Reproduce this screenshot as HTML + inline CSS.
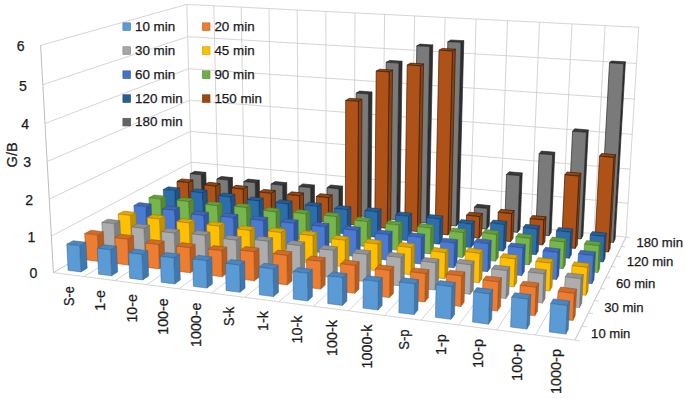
<!DOCTYPE html>
<html><head><meta charset="utf-8"><title>Chart</title>
<style>html,body{margin:0;padding:0;background:#fff;}svg{display:block}</style></head>
<body><svg width="685" height="399" viewBox="0 0 685 399">
<rect width="685" height="399" fill="#fff"/>
<polygon points="53.4,272.6 40.6,45.4 186.8,4.4 192.0,192.6" fill="#fff"/>
<polygon points="192.0,192.6 186.8,4.4 638.7,27.3 626.0,237.1" fill="#fff"/>
<polygon points="53.4,272.6 574.9,340.1 626.0,237.1 192.0,192.6" fill="#fff"/>
<line x1="53.4" y1="272.6" x2="192.0" y2="192.6" stroke="#cacaca" stroke-width="0.8"/>
<line x1="192.0" y1="192.6" x2="626.0" y2="237.1" stroke="#cacaca" stroke-width="0.8"/>
<line x1="51.3" y1="236.2" x2="191.1" y2="162.2" stroke="#cacaca" stroke-width="0.8"/>
<line x1="191.1" y1="162.2" x2="628.0" y2="203.3" stroke="#cacaca" stroke-width="0.8"/>
<line x1="49.2" y1="199.2" x2="190.3" y2="131.4" stroke="#cacaca" stroke-width="0.8"/>
<line x1="190.3" y1="131.4" x2="630.1" y2="169.1" stroke="#cacaca" stroke-width="0.8"/>
<line x1="47.1" y1="161.6" x2="189.4" y2="100.3" stroke="#cacaca" stroke-width="0.8"/>
<line x1="189.4" y1="100.3" x2="632.2" y2="134.4" stroke="#cacaca" stroke-width="0.8"/>
<line x1="45.0" y1="123.5" x2="188.6" y2="68.7" stroke="#cacaca" stroke-width="0.8"/>
<line x1="188.6" y1="68.7" x2="634.3" y2="99.2" stroke="#cacaca" stroke-width="0.8"/>
<line x1="42.8" y1="84.7" x2="187.7" y2="36.7" stroke="#cacaca" stroke-width="0.8"/>
<line x1="187.7" y1="36.7" x2="636.5" y2="63.5" stroke="#cacaca" stroke-width="0.8"/>
<line x1="40.6" y1="45.4" x2="186.8" y2="4.4" stroke="#cacaca" stroke-width="0.8"/>
<line x1="186.8" y1="4.4" x2="638.7" y2="27.3" stroke="#cacaca" stroke-width="0.8"/>
<line x1="192.0" y1="192.6" x2="186.8" y2="4.4" stroke="#cacaca" stroke-width="0.8"/>
<line x1="53.4" y1="272.6" x2="192.0" y2="192.6" stroke="#cacaca" stroke-width="0.8"/>
<line x1="218.0" y1="195.3" x2="213.8" y2="5.8" stroke="#cacaca" stroke-width="0.8"/>
<line x1="83.9" y1="276.6" x2="218.0" y2="195.3" stroke="#cacaca" stroke-width="0.8"/>
<line x1="244.4" y1="198.0" x2="241.2" y2="7.2" stroke="#cacaca" stroke-width="0.8"/>
<line x1="114.9" y1="280.6" x2="244.4" y2="198.0" stroke="#cacaca" stroke-width="0.8"/>
<line x1="271.2" y1="200.7" x2="269.0" y2="8.6" stroke="#cacaca" stroke-width="0.8"/>
<line x1="146.6" y1="284.7" x2="271.2" y2="200.7" stroke="#cacaca" stroke-width="0.8"/>
<line x1="298.4" y1="203.5" x2="297.2" y2="10.0" stroke="#cacaca" stroke-width="0.8"/>
<line x1="178.7" y1="288.9" x2="298.4" y2="203.5" stroke="#cacaca" stroke-width="0.8"/>
<line x1="326.0" y1="206.3" x2="325.9" y2="11.4" stroke="#cacaca" stroke-width="0.8"/>
<line x1="211.5" y1="293.1" x2="326.0" y2="206.3" stroke="#cacaca" stroke-width="0.8"/>
<line x1="354.0" y1="209.2" x2="355.0" y2="12.9" stroke="#cacaca" stroke-width="0.8"/>
<line x1="244.9" y1="297.4" x2="354.0" y2="209.2" stroke="#cacaca" stroke-width="0.8"/>
<line x1="382.4" y1="212.1" x2="384.6" y2="14.4" stroke="#cacaca" stroke-width="0.8"/>
<line x1="278.8" y1="301.8" x2="382.4" y2="212.1" stroke="#cacaca" stroke-width="0.8"/>
<line x1="411.2" y1="215.1" x2="414.6" y2="15.9" stroke="#cacaca" stroke-width="0.8"/>
<line x1="313.4" y1="306.3" x2="411.2" y2="215.1" stroke="#cacaca" stroke-width="0.8"/>
<line x1="440.5" y1="218.1" x2="445.1" y2="17.5" stroke="#cacaca" stroke-width="0.8"/>
<line x1="348.7" y1="310.9" x2="440.5" y2="218.1" stroke="#cacaca" stroke-width="0.8"/>
<line x1="470.2" y1="221.1" x2="476.1" y2="19.1" stroke="#cacaca" stroke-width="0.8"/>
<line x1="384.6" y1="315.5" x2="470.2" y2="221.1" stroke="#cacaca" stroke-width="0.8"/>
<line x1="500.4" y1="224.2" x2="507.5" y2="20.7" stroke="#cacaca" stroke-width="0.8"/>
<line x1="421.2" y1="320.2" x2="500.4" y2="224.2" stroke="#cacaca" stroke-width="0.8"/>
<line x1="531.1" y1="227.3" x2="539.5" y2="22.3" stroke="#cacaca" stroke-width="0.8"/>
<line x1="458.5" y1="325.1" x2="531.1" y2="227.3" stroke="#cacaca" stroke-width="0.8"/>
<line x1="562.2" y1="230.5" x2="572.0" y2="23.9" stroke="#cacaca" stroke-width="0.8"/>
<line x1="496.6" y1="330.0" x2="562.2" y2="230.5" stroke="#cacaca" stroke-width="0.8"/>
<line x1="593.8" y1="233.8" x2="605.1" y2="25.6" stroke="#cacaca" stroke-width="0.8"/>
<line x1="535.4" y1="335.0" x2="593.8" y2="233.8" stroke="#cacaca" stroke-width="0.8"/>
<line x1="626.0" y1="237.1" x2="638.7" y2="27.3" stroke="#cacaca" stroke-width="0.8"/>
<line x1="574.9" y1="340.1" x2="626.0" y2="237.1" stroke="#cacaca" stroke-width="0.8"/>
<line x1="53.4" y1="272.6" x2="40.6" y2="45.4" stroke="#bdbdbd" stroke-width="1"/>
<line x1="53.4" y1="272.6" x2="574.9" y2="340.1" stroke="#cacaca" stroke-width="0.8"/>
<line x1="574.9" y1="340.1" x2="626.0" y2="237.1" stroke="#cacaca" stroke-width="0.8"/>
<line x1="574.9" y1="340.1" x2="579.7" y2="340.8" stroke="#cacaca" stroke-width="0.8"/>
<line x1="581.8" y1="326.2" x2="586.5" y2="326.8" stroke="#cacaca" stroke-width="0.8"/>
<line x1="588.4" y1="313.0" x2="592.9" y2="313.6" stroke="#cacaca" stroke-width="0.8"/>
<line x1="594.6" y1="300.5" x2="599.0" y2="301.0" stroke="#cacaca" stroke-width="0.8"/>
<line x1="600.5" y1="288.6" x2="604.8" y2="289.1" stroke="#cacaca" stroke-width="0.8"/>
<line x1="606.1" y1="277.3" x2="610.3" y2="277.8" stroke="#cacaca" stroke-width="0.8"/>
<line x1="611.4" y1="266.5" x2="615.5" y2="267.0" stroke="#cacaca" stroke-width="0.8"/>
<line x1="616.5" y1="256.2" x2="620.5" y2="256.7" stroke="#cacaca" stroke-width="0.8"/>
<line x1="621.3" y1="246.4" x2="625.3" y2="246.9" stroke="#cacaca" stroke-width="0.8"/>
<line x1="626.0" y1="237.1" x2="629.9" y2="237.5" stroke="#cacaca" stroke-width="0.8"/>
<polygon points="202.0,199.5 201.3,174.8 205.8,172.4 206.4,196.9" fill="#2E2E2E" stroke="#242424" stroke-width="0.65" stroke-linejoin="round"/>
<polygon points="190.2,173.7 201.3,174.8 205.8,172.4 194.7,171.3" fill="#3A3A3A" stroke="#242424" stroke-width="0.65" stroke-linejoin="round"/>
<polygon points="190.9,198.4 190.2,173.7 201.3,174.8 202.0,199.5" fill="#7A7A7A" stroke="#242424" stroke-width="0.65" stroke-linejoin="round"/>
<polygon points="228.6,202.3 228.1,180.1 232.4,177.6 232.8,199.6" fill="#2E2E2E" stroke="#242424" stroke-width="0.65" stroke-linejoin="round"/>
<polygon points="216.9,179.0 228.1,180.1 232.4,177.6 221.2,176.5" fill="#3A3A3A" stroke="#242424" stroke-width="0.65" stroke-linejoin="round"/>
<polygon points="217.3,201.1 216.9,179.0 228.1,180.1 228.6,202.3" fill="#7A7A7A" stroke="#242424" stroke-width="0.65" stroke-linejoin="round"/>
<polygon points="255.6,205.1 255.2,182.7 259.3,180.2 259.6,202.4" fill="#2E2E2E" stroke="#242424" stroke-width="0.65" stroke-linejoin="round"/>
<polygon points="243.8,181.6 255.2,182.7 259.3,180.2 248.0,179.1" fill="#3A3A3A" stroke="#242424" stroke-width="0.65" stroke-linejoin="round"/>
<polygon points="244.2,203.9 243.8,181.6 255.2,182.7 255.6,205.1" fill="#7A7A7A" stroke="#242424" stroke-width="0.65" stroke-linejoin="round"/>
<polygon points="282.9,208.0 282.7,185.3 286.7,182.7 286.9,205.2" fill="#2E2E2E" stroke="#242424" stroke-width="0.65" stroke-linejoin="round"/>
<polygon points="271.1,184.1 282.7,185.3 286.7,182.7 275.1,181.6" fill="#3A3A3A" stroke="#242424" stroke-width="0.65" stroke-linejoin="round"/>
<polygon points="271.4,206.8 271.1,184.1 282.7,185.3 282.9,208.0" fill="#7A7A7A" stroke="#242424" stroke-width="0.65" stroke-linejoin="round"/>
<polygon points="310.7,210.9 310.7,187.7 314.4,185.1 314.5,208.1" fill="#2E2E2E" stroke="#242424" stroke-width="0.65" stroke-linejoin="round"/>
<polygon points="298.9,186.5 310.7,187.7 314.4,185.1 302.7,183.9" fill="#3A3A3A" stroke="#242424" stroke-width="0.65" stroke-linejoin="round"/>
<polygon points="299.0,209.6 298.9,186.5 310.7,187.7 310.7,210.9" fill="#7A7A7A" stroke="#242424" stroke-width="0.65" stroke-linejoin="round"/>
<polygon points="339.0,213.8 339.0,188.9 342.6,186.2 342.5,211.0" fill="#2E2E2E" stroke="#242424" stroke-width="0.65" stroke-linejoin="round"/>
<polygon points="327.0,187.7 339.0,188.9 342.6,186.2 330.7,185.0" fill="#3A3A3A" stroke="#242424" stroke-width="0.65" stroke-linejoin="round"/>
<polygon points="327.1,212.6 327.0,187.7 339.0,188.9 339.0,213.8" fill="#7A7A7A" stroke="#242424" stroke-width="0.65" stroke-linejoin="round"/>
<polygon points="367.6,216.8 368.6,94.0 372.0,92.0 371.0,213.9" fill="#2E2E2E" stroke="#242424" stroke-width="0.65" stroke-linejoin="round"/>
<polygon points="356.2,93.1 368.6,94.0 372.0,92.0 359.7,91.1" fill="#3A3A3A" stroke="#242424" stroke-width="0.65" stroke-linejoin="round"/>
<polygon points="355.5,215.5 356.2,93.1 368.6,94.0 367.6,216.8" fill="#7A7A7A" stroke="#242424" stroke-width="0.65" stroke-linejoin="round"/>
<polygon points="396.7,219.8 398.9,63.1 402.1,61.2 399.9,216.9" fill="#2E2E2E" stroke="#242424" stroke-width="0.65" stroke-linejoin="round"/>
<polygon points="386.2,62.3 398.9,63.1 402.1,61.2 389.6,60.4" fill="#3A3A3A" stroke="#242424" stroke-width="0.65" stroke-linejoin="round"/>
<polygon points="384.4,218.5 386.2,62.3 398.9,63.1 396.7,219.8" fill="#7A7A7A" stroke="#242424" stroke-width="0.65" stroke-linejoin="round"/>
<polygon points="426.2,222.9 429.7,46.6 432.8,44.9 429.2,219.9" fill="#2E2E2E" stroke="#242424" stroke-width="0.65" stroke-linejoin="round"/>
<polygon points="416.8,45.8 429.7,46.6 432.8,44.9 420.0,44.1" fill="#3A3A3A" stroke="#242424" stroke-width="0.65" stroke-linejoin="round"/>
<polygon points="413.7,221.6 416.8,45.8 429.7,46.6 426.2,222.9" fill="#7A7A7A" stroke="#242424" stroke-width="0.65" stroke-linejoin="round"/>
<polygon points="456.2,226.0 461.0,42.4 463.8,40.7 459.0,223.0" fill="#2E2E2E" stroke="#242424" stroke-width="0.65" stroke-linejoin="round"/>
<polygon points="447.8,41.7 461.0,42.4 463.8,40.7 450.8,40.0" fill="#3A3A3A" stroke="#242424" stroke-width="0.65" stroke-linejoin="round"/>
<polygon points="443.5,224.7 447.8,41.7 461.0,42.4 456.2,226.0" fill="#7A7A7A" stroke="#242424" stroke-width="0.65" stroke-linejoin="round"/>
<polygon points="486.6,229.2 487.3,208.5 489.9,205.6 489.2,226.1" fill="#2E2E2E" stroke="#242424" stroke-width="0.65" stroke-linejoin="round"/>
<polygon points="474.4,207.2 487.3,208.5 489.9,205.6 477.1,204.3" fill="#3A3A3A" stroke="#242424" stroke-width="0.65" stroke-linejoin="round"/>
<polygon points="473.8,227.8 474.4,207.2 487.3,208.5 486.6,229.2" fill="#7A7A7A" stroke="#242424" stroke-width="0.65" stroke-linejoin="round"/>
<polygon points="517.6,232.4 519.8,175.7 522.2,172.9 520.0,229.3" fill="#2E2E2E" stroke="#242424" stroke-width="0.65" stroke-linejoin="round"/>
<polygon points="506.5,174.5 519.8,175.7 522.2,172.9 509.0,171.8" fill="#3A3A3A" stroke="#242424" stroke-width="0.65" stroke-linejoin="round"/>
<polygon points="504.5,231.0 506.5,174.5 519.8,175.7 517.6,232.4" fill="#7A7A7A" stroke="#242424" stroke-width="0.65" stroke-linejoin="round"/>
<polygon points="549.0,235.7 552.6,154.8 554.8,152.2 551.2,232.5" fill="#2E2E2E" stroke="#242424" stroke-width="0.65" stroke-linejoin="round"/>
<polygon points="539.1,153.7 552.6,154.8 554.8,152.2 541.4,151.1" fill="#3A3A3A" stroke="#242424" stroke-width="0.65" stroke-linejoin="round"/>
<polygon points="535.7,234.3 539.1,153.7 552.6,154.8 549.0,235.7" fill="#7A7A7A" stroke="#242424" stroke-width="0.65" stroke-linejoin="round"/>
<polygon points="580.9,239.0 586.4,132.3 588.3,129.9 582.9,235.8" fill="#2E2E2E" stroke="#242424" stroke-width="0.65" stroke-linejoin="round"/>
<polygon points="572.6,131.3 586.4,132.3 588.3,129.9 574.7,128.8" fill="#3A3A3A" stroke="#242424" stroke-width="0.65" stroke-linejoin="round"/>
<polygon points="567.4,237.6 572.6,131.3 586.4,132.3 580.9,239.0" fill="#7A7A7A" stroke="#242424" stroke-width="0.65" stroke-linejoin="round"/>
<polygon points="613.4,242.4 623.7,63.8 625.4,61.8 615.1,239.1" fill="#2E2E2E" stroke="#242424" stroke-width="0.65" stroke-linejoin="round"/>
<polygon points="609.5,62.9 623.7,63.8 625.4,61.8 611.3,61.0" fill="#3A3A3A" stroke="#242424" stroke-width="0.65" stroke-linejoin="round"/>
<polygon points="599.7,240.9 609.5,62.9 623.7,63.8 613.4,242.4" fill="#7A7A7A" stroke="#242424" stroke-width="0.65" stroke-linejoin="round"/>
<polygon points="189.0,207.3 188.3,182.6 192.9,180.0 193.6,204.5" fill="#8A4210" stroke="#341806" stroke-width="0.65" stroke-linejoin="round"/>
<polygon points="177.0,181.4 188.3,182.6 192.9,180.0 181.7,178.9" fill="#96460F" stroke="#341806" stroke-width="0.65" stroke-linejoin="round"/>
<polygon points="177.8,206.1 177.0,181.4 188.3,182.6 189.0,207.3" fill="#AE5217" stroke="#341806" stroke-width="0.65" stroke-linejoin="round"/>
<polygon points="216.1,210.2 215.5,186.1 220.0,183.5 220.5,207.4" fill="#8A4210" stroke="#341806" stroke-width="0.65" stroke-linejoin="round"/>
<polygon points="204.1,184.9 215.5,186.1 220.0,183.5 208.6,182.3" fill="#96460F" stroke="#341806" stroke-width="0.65" stroke-linejoin="round"/>
<polygon points="204.7,209.0 204.1,184.9 215.5,186.1 216.1,210.2" fill="#AE5217" stroke="#341806" stroke-width="0.65" stroke-linejoin="round"/>
<polygon points="243.5,213.1 243.1,189.2 247.4,186.5 247.8,210.3" fill="#8A4210" stroke="#341806" stroke-width="0.65" stroke-linejoin="round"/>
<polygon points="231.5,188.0 243.1,189.2 247.4,186.5 235.8,185.3" fill="#96460F" stroke="#341806" stroke-width="0.65" stroke-linejoin="round"/>
<polygon points="231.9,211.9 231.5,188.0 243.1,189.2 243.5,213.1" fill="#AE5217" stroke="#341806" stroke-width="0.65" stroke-linejoin="round"/>
<polygon points="271.4,216.1 271.1,193.3 275.3,190.5 275.5,213.2" fill="#8A4210" stroke="#341806" stroke-width="0.65" stroke-linejoin="round"/>
<polygon points="259.3,192.1 271.1,193.3 275.3,190.5 263.5,189.4" fill="#96460F" stroke="#341806" stroke-width="0.65" stroke-linejoin="round"/>
<polygon points="259.6,214.8 259.3,192.1 271.1,193.3 271.4,216.1" fill="#AE5217" stroke="#341806" stroke-width="0.65" stroke-linejoin="round"/>
<polygon points="299.7,219.1 299.6,195.8 303.5,193.0 303.6,216.2" fill="#8A4210" stroke="#341806" stroke-width="0.65" stroke-linejoin="round"/>
<polygon points="287.6,194.6 299.6,195.8 303.5,193.0 291.6,191.8" fill="#96460F" stroke="#341806" stroke-width="0.65" stroke-linejoin="round"/>
<polygon points="287.8,217.8 287.6,194.6 299.6,195.8 299.7,219.1" fill="#AE5217" stroke="#341806" stroke-width="0.65" stroke-linejoin="round"/>
<polygon points="328.4,222.1 328.4,197.7 332.2,194.9 332.2,219.2" fill="#8A4210" stroke="#341806" stroke-width="0.65" stroke-linejoin="round"/>
<polygon points="316.3,196.5 328.4,197.7 332.2,194.9 320.1,193.7" fill="#96460F" stroke="#341806" stroke-width="0.65" stroke-linejoin="round"/>
<polygon points="316.3,220.9 316.3,196.5 328.4,197.7 328.4,222.1" fill="#AE5217" stroke="#341806" stroke-width="0.65" stroke-linejoin="round"/>
<polygon points="357.6,225.3 358.4,101.3 362.0,99.2 361.2,222.2" fill="#8A4210" stroke="#341806" stroke-width="0.65" stroke-linejoin="round"/>
<polygon points="345.7,100.4 358.4,101.3 362.0,99.2 349.4,98.3" fill="#96460F" stroke="#341806" stroke-width="0.65" stroke-linejoin="round"/>
<polygon points="345.3,223.9 345.7,100.4 358.4,101.3 357.6,225.3" fill="#AE5217" stroke="#341806" stroke-width="0.65" stroke-linejoin="round"/>
<polygon points="387.2,228.4 389.1,71.9 392.6,70.0 390.6,225.4" fill="#8A4210" stroke="#341806" stroke-width="0.65" stroke-linejoin="round"/>
<polygon points="376.2,71.1 389.1,71.9 392.6,70.0 379.7,69.2" fill="#96460F" stroke="#341806" stroke-width="0.65" stroke-linejoin="round"/>
<polygon points="374.7,227.1 376.2,71.1 389.1,71.9 387.2,228.4" fill="#AE5217" stroke="#341806" stroke-width="0.65" stroke-linejoin="round"/>
<polygon points="417.3,231.6 420.4,65.8 423.6,63.9 420.5,228.5" fill="#8A4210" stroke="#341806" stroke-width="0.65" stroke-linejoin="round"/>
<polygon points="407.2,65.0 420.4,65.8 423.6,63.9 410.5,63.1" fill="#96460F" stroke="#341806" stroke-width="0.65" stroke-linejoin="round"/>
<polygon points="404.6,230.3 407.2,65.0 420.4,65.8 417.3,231.6" fill="#AE5217" stroke="#341806" stroke-width="0.65" stroke-linejoin="round"/>
<polygon points="447.9,234.9 452.4,51.0 455.4,49.2 450.9,231.7" fill="#8A4210" stroke="#341806" stroke-width="0.65" stroke-linejoin="round"/>
<polygon points="439.0,50.2 452.4,51.0 455.4,49.2 442.1,48.4" fill="#96460F" stroke="#341806" stroke-width="0.65" stroke-linejoin="round"/>
<polygon points="435.0,233.5 439.0,50.2 452.4,51.0 447.9,234.9" fill="#AE5217" stroke="#341806" stroke-width="0.65" stroke-linejoin="round"/>
<polygon points="479.0,238.2 479.7,216.6 482.4,213.5 481.7,235.0" fill="#8A4210" stroke="#341806" stroke-width="0.65" stroke-linejoin="round"/>
<polygon points="466.5,215.2 479.7,216.6 482.4,213.5 469.3,212.2" fill="#96460F" stroke="#341806" stroke-width="0.65" stroke-linejoin="round"/>
<polygon points="465.9,236.8 466.5,215.2 479.7,216.6 479.0,238.2" fill="#AE5217" stroke="#341806" stroke-width="0.65" stroke-linejoin="round"/>
<polygon points="510.6,241.6 511.6,213.6 514.1,210.6 513.0,238.3" fill="#8A4210" stroke="#341806" stroke-width="0.65" stroke-linejoin="round"/>
<polygon points="498.2,212.3 511.6,213.6 514.1,210.6 500.8,209.3" fill="#96460F" stroke="#341806" stroke-width="0.65" stroke-linejoin="round"/>
<polygon points="497.2,240.1 498.2,212.3 511.6,213.6 510.6,241.6" fill="#AE5217" stroke="#341806" stroke-width="0.65" stroke-linejoin="round"/>
<polygon points="542.6,245.0 543.7,219.9 546.0,216.8 544.9,241.7" fill="#8A4210" stroke="#341806" stroke-width="0.65" stroke-linejoin="round"/>
<polygon points="530.1,218.6 543.7,219.9 546.0,216.8 532.5,215.5" fill="#96460F" stroke="#341806" stroke-width="0.65" stroke-linejoin="round"/>
<polygon points="529.1,243.5 530.1,218.6 543.7,219.9 542.6,245.0" fill="#AE5217" stroke="#341806" stroke-width="0.65" stroke-linejoin="round"/>
<polygon points="575.2,248.4 578.9,176.1 580.9,173.2 577.3,245.1" fill="#8A4210" stroke="#341806" stroke-width="0.65" stroke-linejoin="round"/>
<polygon points="564.9,174.8 578.9,176.1 580.9,173.2 567.0,172.0" fill="#96460F" stroke="#341806" stroke-width="0.65" stroke-linejoin="round"/>
<polygon points="561.5,247.0 564.9,174.8 578.9,176.1 575.2,248.4" fill="#AE5217" stroke="#341806" stroke-width="0.65" stroke-linejoin="round"/>
<polygon points="608.4,252.0 613.8,157.4 615.5,154.7 610.1,248.6" fill="#8A4210" stroke="#341806" stroke-width="0.65" stroke-linejoin="round"/>
<polygon points="599.5,156.2 613.8,157.4 615.5,154.7 601.4,153.5" fill="#96460F" stroke="#341806" stroke-width="0.65" stroke-linejoin="round"/>
<polygon points="594.4,250.5 599.5,156.2 613.8,157.4 608.4,252.0" fill="#AE5217" stroke="#341806" stroke-width="0.65" stroke-linejoin="round"/>
<polygon points="175.5,215.4 174.8,190.6 179.6,187.9 180.3,212.5" fill="#1E5288" stroke="#163657" stroke-width="0.5" stroke-linejoin="round"/>
<polygon points="163.3,189.5 174.8,190.6 179.6,187.9 168.2,186.8" fill="#245E98" stroke="#163657" stroke-width="0.5" stroke-linejoin="round"/>
<polygon points="164.1,214.1 163.3,189.5 174.8,190.6 175.5,215.4" fill="#2C6DAE" stroke="#163657" stroke-width="0.5" stroke-linejoin="round"/>
<polygon points="203.0,218.4 202.4,192.8 207.0,190.1 207.7,215.5" fill="#1E5288" stroke="#163657" stroke-width="0.5" stroke-linejoin="round"/>
<polygon points="190.7,191.6 202.4,192.8 207.0,190.1 195.4,188.9" fill="#245E98" stroke="#163657" stroke-width="0.5" stroke-linejoin="round"/>
<polygon points="191.4,217.1 190.7,191.6 202.4,192.8 203.0,218.4" fill="#2C6DAE" stroke="#163657" stroke-width="0.5" stroke-linejoin="round"/>
<polygon points="231.0,221.4 230.5,197.0 235.0,194.2 235.4,218.5" fill="#1E5288" stroke="#163657" stroke-width="0.5" stroke-linejoin="round"/>
<polygon points="218.7,195.8 230.5,197.0 235.0,194.2 223.2,193.0" fill="#245E98" stroke="#163657" stroke-width="0.5" stroke-linejoin="round"/>
<polygon points="219.2,220.1 218.7,195.8 230.5,197.0 231.0,221.4" fill="#2C6DAE" stroke="#163657" stroke-width="0.5" stroke-linejoin="round"/>
<polygon points="259.4,224.5 259.0,200.9 263.3,198.1 263.6,221.5" fill="#1E5288" stroke="#163657" stroke-width="0.5" stroke-linejoin="round"/>
<polygon points="247.0,199.7 259.0,200.9 263.3,198.1 251.4,196.9" fill="#245E98" stroke="#163657" stroke-width="0.5" stroke-linejoin="round"/>
<polygon points="247.4,223.2 247.0,199.7 259.0,200.9 259.4,224.5" fill="#2C6DAE" stroke="#163657" stroke-width="0.5" stroke-linejoin="round"/>
<polygon points="288.2,227.7 288.0,203.9 292.1,201.0 292.3,224.6" fill="#1E5288" stroke="#163657" stroke-width="0.5" stroke-linejoin="round"/>
<polygon points="275.8,202.6 288.0,203.9 292.1,201.0 280.0,199.8" fill="#245E98" stroke="#163657" stroke-width="0.5" stroke-linejoin="round"/>
<polygon points="276.0,226.3 275.8,202.6 288.0,203.9 288.2,227.7" fill="#2C6DAE" stroke="#163657" stroke-width="0.5" stroke-linejoin="round"/>
<polygon points="317.5,230.9 317.4,206.4 321.3,203.5 321.4,227.8" fill="#1E5288" stroke="#163657" stroke-width="0.5" stroke-linejoin="round"/>
<polygon points="305.0,205.1 317.4,206.4 321.3,203.5 309.0,202.2" fill="#245E98" stroke="#163657" stroke-width="0.5" stroke-linejoin="round"/>
<polygon points="305.1,229.5 305.0,205.1 317.4,206.4 317.5,230.9" fill="#2C6DAE" stroke="#163657" stroke-width="0.5" stroke-linejoin="round"/>
<polygon points="347.2,234.1 347.3,209.7 351.0,206.7 350.9,231.0" fill="#1E5288" stroke="#163657" stroke-width="0.5" stroke-linejoin="round"/>
<polygon points="334.7,208.4 347.3,209.7 351.0,206.7 338.5,205.4" fill="#245E98" stroke="#163657" stroke-width="0.5" stroke-linejoin="round"/>
<polygon points="334.6,232.7 334.7,208.4 347.3,209.7 347.2,234.1" fill="#2C6DAE" stroke="#163657" stroke-width="0.5" stroke-linejoin="round"/>
<polygon points="377.4,237.4 377.7,211.9 381.2,208.9 380.9,234.2" fill="#1E5288" stroke="#163657" stroke-width="0.5" stroke-linejoin="round"/>
<polygon points="364.8,210.6 377.7,211.9 381.2,208.9 368.4,207.6" fill="#245E98" stroke="#163657" stroke-width="0.5" stroke-linejoin="round"/>
<polygon points="364.7,236.0 364.8,210.6 377.7,211.9 377.4,237.4" fill="#2C6DAE" stroke="#163657" stroke-width="0.5" stroke-linejoin="round"/>
<polygon points="408.1,240.7 408.5,216.3 411.8,213.2 411.4,237.5" fill="#1E5288" stroke="#163657" stroke-width="0.5" stroke-linejoin="round"/>
<polygon points="395.5,214.9 408.5,216.3 411.8,213.2 398.9,211.9" fill="#245E98" stroke="#163657" stroke-width="0.5" stroke-linejoin="round"/>
<polygon points="395.1,239.3 395.5,214.9 408.5,216.3 408.1,240.7" fill="#2C6DAE" stroke="#163657" stroke-width="0.5" stroke-linejoin="round"/>
<polygon points="439.3,244.2 439.9,219.0 442.9,215.9 442.4,240.9" fill="#1E5288" stroke="#163657" stroke-width="0.5" stroke-linejoin="round"/>
<polygon points="426.6,217.6 439.9,219.0 442.9,215.9 429.8,214.5" fill="#245E98" stroke="#163657" stroke-width="0.5" stroke-linejoin="round"/>
<polygon points="426.1,242.7 426.6,217.6 439.9,219.0 439.3,244.2" fill="#2C6DAE" stroke="#163657" stroke-width="0.5" stroke-linejoin="round"/>
<polygon points="471.0,247.6 471.7,224.2 474.5,221.0 473.8,244.3" fill="#1E5288" stroke="#163657" stroke-width="0.5" stroke-linejoin="round"/>
<polygon points="458.2,222.8 471.7,224.2 474.5,221.0 461.2,219.6" fill="#245E98" stroke="#163657" stroke-width="0.5" stroke-linejoin="round"/>
<polygon points="457.6,246.2 458.2,222.8 471.7,224.2 471.0,247.6" fill="#2C6DAE" stroke="#163657" stroke-width="0.5" stroke-linejoin="round"/>
<polygon points="503.2,251.1 504.2,224.5 506.8,221.3 505.8,247.7" fill="#1E5288" stroke="#163657" stroke-width="0.5" stroke-linejoin="round"/>
<polygon points="490.5,223.1 504.2,224.5 506.8,221.3 493.2,220.0" fill="#245E98" stroke="#163657" stroke-width="0.5" stroke-linejoin="round"/>
<polygon points="489.6,249.7 490.5,223.1 504.2,224.5 503.2,251.1" fill="#2C6DAE" stroke="#163657" stroke-width="0.5" stroke-linejoin="round"/>
<polygon points="536.0,254.7 537.1,229.0 539.4,225.7 538.3,251.3" fill="#1E5288" stroke="#163657" stroke-width="0.5" stroke-linejoin="round"/>
<polygon points="523.2,227.5 537.1,229.0 539.4,225.7 525.6,224.3" fill="#245E98" stroke="#163657" stroke-width="0.5" stroke-linejoin="round"/>
<polygon points="522.1,253.2 523.2,227.5 537.1,229.0 536.0,254.7" fill="#2C6DAE" stroke="#163657" stroke-width="0.5" stroke-linejoin="round"/>
<polygon points="569.3,258.3 570.6,232.2 572.7,228.9 571.4,254.8" fill="#1E5288" stroke="#163657" stroke-width="0.5" stroke-linejoin="round"/>
<polygon points="556.4,230.8 570.6,232.2 572.7,228.9 558.6,227.5" fill="#245E98" stroke="#163657" stroke-width="0.5" stroke-linejoin="round"/>
<polygon points="555.2,256.8 556.4,230.8 570.6,232.2 569.3,258.3" fill="#2C6DAE" stroke="#163657" stroke-width="0.5" stroke-linejoin="round"/>
<polygon points="603.1,262.0 604.6,236.4 606.4,233.1 605.0,258.5" fill="#1E5288" stroke="#163657" stroke-width="0.5" stroke-linejoin="round"/>
<polygon points="590.2,235.0 604.6,236.4 606.4,233.1 592.2,231.6" fill="#245E98" stroke="#163657" stroke-width="0.5" stroke-linejoin="round"/>
<polygon points="588.8,260.5 590.2,235.0 604.6,236.4 603.1,262.0" fill="#2C6DAE" stroke="#163657" stroke-width="0.5" stroke-linejoin="round"/>
<polygon points="161.4,223.8 160.6,199.1 165.6,196.2 166.4,220.8" fill="#568835" stroke="#49702d" stroke-width="0.5" stroke-linejoin="round"/>
<polygon points="148.9,197.8 160.6,199.1 165.6,196.2 154.0,195.0" fill="#63A03C" stroke="#49702d" stroke-width="0.5" stroke-linejoin="round"/>
<polygon points="149.8,222.5 148.9,197.8 160.6,199.1 161.4,223.8" fill="#76B64A" stroke="#49702d" stroke-width="0.5" stroke-linejoin="round"/>
<polygon points="189.5,226.9 188.7,201.5 193.6,198.7 194.3,223.9" fill="#568835" stroke="#49702d" stroke-width="0.5" stroke-linejoin="round"/>
<polygon points="176.9,200.3 188.7,201.5 193.6,198.7 181.8,197.4" fill="#63A03C" stroke="#49702d" stroke-width="0.5" stroke-linejoin="round"/>
<polygon points="177.6,225.6 176.9,200.3 188.7,201.5 189.5,226.9" fill="#76B64A" stroke="#49702d" stroke-width="0.5" stroke-linejoin="round"/>
<polygon points="217.9,230.1 217.4,205.7 222.0,202.8 222.5,227.0" fill="#568835" stroke="#49702d" stroke-width="0.5" stroke-linejoin="round"/>
<polygon points="205.3,204.4 217.4,205.7 222.0,202.8 210.0,201.5" fill="#63A03C" stroke="#49702d" stroke-width="0.5" stroke-linejoin="round"/>
<polygon points="205.9,228.7 205.3,204.4 217.4,205.7 217.9,230.1" fill="#76B64A" stroke="#49702d" stroke-width="0.5" stroke-linejoin="round"/>
<polygon points="246.8,233.3 246.4,207.6 250.9,204.6 251.3,230.2" fill="#568835" stroke="#49702d" stroke-width="0.5" stroke-linejoin="round"/>
<polygon points="234.1,206.3 246.4,207.6 250.9,204.6 238.7,203.4" fill="#63A03C" stroke="#49702d" stroke-width="0.5" stroke-linejoin="round"/>
<polygon points="234.6,232.0 234.1,206.3 246.4,207.6 246.8,233.3" fill="#76B64A" stroke="#49702d" stroke-width="0.5" stroke-linejoin="round"/>
<polygon points="276.2,236.6 275.9,211.9 280.2,208.8 280.4,233.4" fill="#568835" stroke="#49702d" stroke-width="0.5" stroke-linejoin="round"/>
<polygon points="263.4,210.5 275.9,211.9 280.2,208.8 267.8,207.6" fill="#63A03C" stroke="#49702d" stroke-width="0.5" stroke-linejoin="round"/>
<polygon points="263.8,235.2 263.4,210.5 275.9,211.9 276.2,236.6" fill="#76B64A" stroke="#49702d" stroke-width="0.5" stroke-linejoin="round"/>
<polygon points="306.0,239.9 305.9,213.8 310.0,210.8 310.1,236.7" fill="#568835" stroke="#49702d" stroke-width="0.5" stroke-linejoin="round"/>
<polygon points="293.2,212.5 305.9,213.8 310.0,210.8 297.4,209.5" fill="#63A03C" stroke="#49702d" stroke-width="0.5" stroke-linejoin="round"/>
<polygon points="293.4,238.5 293.2,212.5 305.9,213.8 306.0,239.9" fill="#76B64A" stroke="#49702d" stroke-width="0.5" stroke-linejoin="round"/>
<polygon points="336.3,243.3 336.3,216.7 340.2,213.6 340.2,240.1" fill="#568835" stroke="#49702d" stroke-width="0.5" stroke-linejoin="round"/>
<polygon points="323.5,215.3 336.3,216.7 340.2,213.6 327.5,212.3" fill="#63A03C" stroke="#49702d" stroke-width="0.5" stroke-linejoin="round"/>
<polygon points="323.5,241.9 323.5,215.3 336.3,216.7 336.3,243.3" fill="#76B64A" stroke="#49702d" stroke-width="0.5" stroke-linejoin="round"/>
<polygon points="367.1,246.8 367.3,221.6 371.0,218.5 370.8,243.5" fill="#568835" stroke="#49702d" stroke-width="0.5" stroke-linejoin="round"/>
<polygon points="354.2,220.3 367.3,221.6 371.0,218.5 358.0,217.1" fill="#63A03C" stroke="#49702d" stroke-width="0.5" stroke-linejoin="round"/>
<polygon points="354.1,245.3 354.2,220.3 367.3,221.6 367.1,246.8" fill="#76B64A" stroke="#49702d" stroke-width="0.5" stroke-linejoin="round"/>
<polygon points="398.4,250.3 398.8,225.1 402.2,221.9 401.9,246.9" fill="#568835" stroke="#49702d" stroke-width="0.5" stroke-linejoin="round"/>
<polygon points="385.5,223.7 398.8,225.1 402.2,221.9 389.0,220.6" fill="#63A03C" stroke="#49702d" stroke-width="0.5" stroke-linejoin="round"/>
<polygon points="385.2,248.8 385.5,223.7 398.8,225.1 398.4,250.3" fill="#76B64A" stroke="#49702d" stroke-width="0.5" stroke-linejoin="round"/>
<polygon points="430.3,253.9 430.8,228.2 434.0,224.9 433.5,250.4" fill="#568835" stroke="#49702d" stroke-width="0.5" stroke-linejoin="round"/>
<polygon points="417.3,226.7 430.8,228.2 434.0,224.9 420.6,223.5" fill="#63A03C" stroke="#49702d" stroke-width="0.5" stroke-linejoin="round"/>
<polygon points="416.8,252.4 417.3,226.7 430.8,228.2 430.3,253.9" fill="#76B64A" stroke="#49702d" stroke-width="0.5" stroke-linejoin="round"/>
<polygon points="462.6,257.5 463.3,232.6 466.3,229.3 465.6,254.0" fill="#568835" stroke="#49702d" stroke-width="0.5" stroke-linejoin="round"/>
<polygon points="449.6,231.2 463.3,232.6 466.3,229.3 452.7,227.9" fill="#63A03C" stroke="#49702d" stroke-width="0.5" stroke-linejoin="round"/>
<polygon points="449.0,256.0 449.6,231.2 463.3,232.6 462.6,257.5" fill="#76B64A" stroke="#49702d" stroke-width="0.5" stroke-linejoin="round"/>
<polygon points="495.5,261.2 496.4,234.4 499.2,231.0 498.3,257.6" fill="#568835" stroke="#49702d" stroke-width="0.5" stroke-linejoin="round"/>
<polygon points="482.5,232.9 496.4,234.4 499.2,231.0 485.3,229.5" fill="#63A03C" stroke="#49702d" stroke-width="0.5" stroke-linejoin="round"/>
<polygon points="481.6,259.6 482.5,232.9 496.4,234.4 495.5,261.2" fill="#76B64A" stroke="#49702d" stroke-width="0.5" stroke-linejoin="round"/>
<polygon points="529.0,264.9 530.1,238.4 532.6,235.0 531.5,261.3" fill="#568835" stroke="#49702d" stroke-width="0.5" stroke-linejoin="round"/>
<polygon points="515.9,236.9 530.1,238.4 532.6,235.0 518.5,233.5" fill="#63A03C" stroke="#49702d" stroke-width="0.5" stroke-linejoin="round"/>
<polygon points="514.9,263.3 515.9,236.9 530.1,238.4 529.0,264.9" fill="#76B64A" stroke="#49702d" stroke-width="0.5" stroke-linejoin="round"/>
<polygon points="563.0,268.7 564.3,242.0 566.5,238.6 565.3,265.0" fill="#568835" stroke="#49702d" stroke-width="0.5" stroke-linejoin="round"/>
<polygon points="549.9,240.5 564.3,242.0 566.5,238.6 552.2,237.1" fill="#63A03C" stroke="#49702d" stroke-width="0.5" stroke-linejoin="round"/>
<polygon points="548.7,267.1 549.9,240.5 564.3,242.0 563.0,268.7" fill="#76B64A" stroke="#49702d" stroke-width="0.5" stroke-linejoin="round"/>
<polygon points="597.7,272.6 599.1,245.7 601.1,242.2 599.6,268.8" fill="#568835" stroke="#49702d" stroke-width="0.5" stroke-linejoin="round"/>
<polygon points="584.4,244.2 599.1,245.7 601.1,242.2 586.5,240.6" fill="#63A03C" stroke="#49702d" stroke-width="0.5" stroke-linejoin="round"/>
<polygon points="583.0,271.0 584.4,244.2 599.1,245.7 597.7,272.6" fill="#76B64A" stroke="#49702d" stroke-width="0.5" stroke-linejoin="round"/>
<polygon points="146.7,232.6 145.8,206.8 151.1,203.9 152.0,229.4" fill="#3358A2" stroke="#2d4b82" stroke-width="0.5" stroke-linejoin="round"/>
<polygon points="133.9,205.6 145.8,206.8 151.1,203.9 139.2,202.6" fill="#3D68BA" stroke="#2d4b82" stroke-width="0.5" stroke-linejoin="round"/>
<polygon points="134.9,231.2 133.9,205.6 145.8,206.8 146.7,232.6" fill="#4A7AD2" stroke="#2d4b82" stroke-width="0.5" stroke-linejoin="round"/>
<polygon points="175.3,235.8 174.5,210.3 179.5,207.3 180.3,232.7" fill="#3358A2" stroke="#2d4b82" stroke-width="0.5" stroke-linejoin="round"/>
<polygon points="162.4,209.0 174.5,210.3 179.5,207.3 167.5,206.0" fill="#3D68BA" stroke="#2d4b82" stroke-width="0.5" stroke-linejoin="round"/>
<polygon points="163.2,234.4 162.4,209.0 174.5,210.3 175.3,235.8" fill="#4A7AD2" stroke="#2d4b82" stroke-width="0.5" stroke-linejoin="round"/>
<polygon points="204.2,239.2 203.6,215.4 208.5,212.4 209.1,235.9" fill="#3358A2" stroke="#2d4b82" stroke-width="0.5" stroke-linejoin="round"/>
<polygon points="191.4,214.1 203.6,215.4 208.5,212.4 196.3,211.1" fill="#3D68BA" stroke="#2d4b82" stroke-width="0.5" stroke-linejoin="round"/>
<polygon points="192.0,237.7 191.4,214.1 203.6,215.4 204.2,239.2" fill="#4A7AD2" stroke="#2d4b82" stroke-width="0.5" stroke-linejoin="round"/>
<polygon points="233.7,242.5 233.2,217.6 237.9,214.5 238.3,239.3" fill="#3358A2" stroke="#2d4b82" stroke-width="0.5" stroke-linejoin="round"/>
<polygon points="220.7,216.3 233.2,217.6 237.9,214.5 225.5,213.2" fill="#3D68BA" stroke="#2d4b82" stroke-width="0.5" stroke-linejoin="round"/>
<polygon points="221.2,241.1 220.7,216.3 233.2,217.6 233.7,242.5" fill="#4A7AD2" stroke="#2d4b82" stroke-width="0.5" stroke-linejoin="round"/>
<polygon points="263.6,246.0 263.3,220.5 267.7,217.4 268.1,242.6" fill="#3358A2" stroke="#2d4b82" stroke-width="0.5" stroke-linejoin="round"/>
<polygon points="250.6,219.2 263.3,220.5 267.7,217.4 255.1,216.0" fill="#3D68BA" stroke="#2d4b82" stroke-width="0.5" stroke-linejoin="round"/>
<polygon points="251.0,244.5 250.6,219.2 263.3,220.5 263.6,246.0" fill="#4A7AD2" stroke="#2d4b82" stroke-width="0.5" stroke-linejoin="round"/>
<polygon points="294.0,249.5 293.8,223.3 298.1,220.1 298.3,246.1" fill="#3358A2" stroke="#2d4b82" stroke-width="0.5" stroke-linejoin="round"/>
<polygon points="280.9,221.9 293.8,223.3 298.1,220.1 285.3,218.7" fill="#3D68BA" stroke="#2d4b82" stroke-width="0.5" stroke-linejoin="round"/>
<polygon points="281.2,248.0 280.9,221.9 293.8,223.3 294.0,249.5" fill="#4A7AD2" stroke="#2d4b82" stroke-width="0.5" stroke-linejoin="round"/>
<polygon points="324.9,253.0 324.9,226.8 329.0,223.6 329.0,249.6" fill="#3358A2" stroke="#2d4b82" stroke-width="0.5" stroke-linejoin="round"/>
<polygon points="311.8,225.4 324.9,226.8 329.0,223.6 315.9,222.2" fill="#3D68BA" stroke="#2d4b82" stroke-width="0.5" stroke-linejoin="round"/>
<polygon points="311.9,251.5 311.8,225.4 324.9,226.8 324.9,253.0" fill="#4A7AD2" stroke="#2d4b82" stroke-width="0.5" stroke-linejoin="round"/>
<polygon points="356.3,256.6 356.5,230.6 360.3,227.3 360.2,253.1" fill="#3358A2" stroke="#2d4b82" stroke-width="0.5" stroke-linejoin="round"/>
<polygon points="343.2,229.1 356.5,230.6 360.3,227.3 347.1,225.9" fill="#3D68BA" stroke="#2d4b82" stroke-width="0.5" stroke-linejoin="round"/>
<polygon points="343.1,255.1 343.2,229.1 356.5,230.6 356.3,256.6" fill="#4A7AD2" stroke="#2d4b82" stroke-width="0.5" stroke-linejoin="round"/>
<polygon points="388.3,260.3 388.6,234.8 392.2,231.4 391.9,256.7" fill="#3358A2" stroke="#2d4b82" stroke-width="0.5" stroke-linejoin="round"/>
<polygon points="375.0,233.3 388.6,234.8 392.2,231.4 378.8,230.0" fill="#3D68BA" stroke="#2d4b82" stroke-width="0.5" stroke-linejoin="round"/>
<polygon points="374.8,258.7 375.0,233.3 388.6,234.8 388.3,260.3" fill="#4A7AD2" stroke="#2d4b82" stroke-width="0.5" stroke-linejoin="round"/>
<polygon points="420.8,264.0 421.3,237.6 424.7,234.2 424.2,260.4" fill="#3358A2" stroke="#2d4b82" stroke-width="0.5" stroke-linejoin="round"/>
<polygon points="407.5,236.1 421.3,237.6 424.7,234.2 411.0,232.7" fill="#3D68BA" stroke="#2d4b82" stroke-width="0.5" stroke-linejoin="round"/>
<polygon points="407.1,262.4 407.5,236.1 421.3,237.6 420.8,264.0" fill="#4A7AD2" stroke="#2d4b82" stroke-width="0.5" stroke-linejoin="round"/>
<polygon points="453.8,267.8 454.5,243.2 457.6,239.7 457.0,264.1" fill="#3358A2" stroke="#2d4b82" stroke-width="0.5" stroke-linejoin="round"/>
<polygon points="440.5,241.6 454.5,243.2 457.6,239.7 443.7,238.2" fill="#3D68BA" stroke="#2d4b82" stroke-width="0.5" stroke-linejoin="round"/>
<polygon points="439.9,266.2 440.5,241.6 454.5,243.2 453.8,267.8" fill="#4A7AD2" stroke="#2d4b82" stroke-width="0.5" stroke-linejoin="round"/>
<polygon points="487.5,271.7 488.4,243.7 491.3,240.2 490.3,267.9" fill="#3358A2" stroke="#2d4b82" stroke-width="0.5" stroke-linejoin="round"/>
<polygon points="474.1,242.2 488.4,243.7 491.3,240.2 477.1,238.7" fill="#3D68BA" stroke="#2d4b82" stroke-width="0.5" stroke-linejoin="round"/>
<polygon points="473.3,270.1 474.1,242.2 488.4,243.7 487.5,271.7" fill="#4A7AD2" stroke="#2d4b82" stroke-width="0.5" stroke-linejoin="round"/>
<polygon points="521.7,275.6 522.8,248.0 525.4,244.4 524.3,271.8" fill="#3358A2" stroke="#2d4b82" stroke-width="0.5" stroke-linejoin="round"/>
<polygon points="508.2,246.4 522.8,248.0 525.4,244.4 511.0,242.9" fill="#3D68BA" stroke="#2d4b82" stroke-width="0.5" stroke-linejoin="round"/>
<polygon points="507.2,274.0 508.2,246.4 522.8,248.0 521.7,275.6" fill="#4A7AD2" stroke="#2d4b82" stroke-width="0.5" stroke-linejoin="round"/>
<polygon points="556.5,279.6 557.8,252.5 560.1,248.9 558.8,275.7" fill="#3358A2" stroke="#2d4b82" stroke-width="0.5" stroke-linejoin="round"/>
<polygon points="543.0,250.9 557.8,252.5 560.1,248.9 545.4,247.3" fill="#3D68BA" stroke="#2d4b82" stroke-width="0.5" stroke-linejoin="round"/>
<polygon points="541.8,277.9 543.0,250.9 557.8,252.5 556.5,279.6" fill="#4A7AD2" stroke="#2d4b82" stroke-width="0.5" stroke-linejoin="round"/>
<polygon points="591.9,283.7 593.4,255.6 595.5,251.9 594.0,279.7" fill="#3358A2" stroke="#2d4b82" stroke-width="0.5" stroke-linejoin="round"/>
<polygon points="578.4,254.0 593.4,255.6 595.5,251.9 580.6,250.3" fill="#3D68BA" stroke="#2d4b82" stroke-width="0.5" stroke-linejoin="round"/>
<polygon points="577.0,282.0 578.4,254.0 593.4,255.6 591.9,283.7" fill="#4A7AD2" stroke="#2d4b82" stroke-width="0.5" stroke-linejoin="round"/>
<polygon points="131.4,241.7 130.3,215.5 135.8,212.4 136.8,238.5" fill="#BF9000" stroke="#9e7700" stroke-width="0.5" stroke-linejoin="round"/>
<polygon points="118.2,214.1 130.3,215.5 135.8,212.4 123.8,211.1" fill="#DDA600" stroke="#9e7700" stroke-width="0.5" stroke-linejoin="round"/>
<polygon points="119.3,240.3 118.2,214.1 130.3,215.5 131.4,241.7" fill="#FFC000" stroke="#9e7700" stroke-width="0.5" stroke-linejoin="round"/>
<polygon points="160.4,245.2 159.5,219.1 164.8,215.9 165.7,241.8" fill="#BF9000" stroke="#9e7700" stroke-width="0.5" stroke-linejoin="round"/>
<polygon points="147.2,217.7 159.5,219.1 164.8,215.9 152.6,214.6" fill="#DDA600" stroke="#9e7700" stroke-width="0.5" stroke-linejoin="round"/>
<polygon points="148.2,243.7 147.2,217.7 159.5,219.1 160.4,245.2" fill="#FFC000" stroke="#9e7700" stroke-width="0.5" stroke-linejoin="round"/>
<polygon points="189.9,248.6 189.2,223.0 194.3,219.9 195.0,245.3" fill="#BF9000" stroke="#9e7700" stroke-width="0.5" stroke-linejoin="round"/>
<polygon points="176.7,221.6 189.2,223.0 194.3,219.9 181.9,218.5" fill="#DDA600" stroke="#9e7700" stroke-width="0.5" stroke-linejoin="round"/>
<polygon points="177.5,247.2 176.7,221.6 189.2,223.0 189.9,248.6" fill="#FFC000" stroke="#9e7700" stroke-width="0.5" stroke-linejoin="round"/>
<polygon points="219.9,252.2 219.4,226.2 224.3,223.0 224.8,248.7" fill="#BF9000" stroke="#9e7700" stroke-width="0.5" stroke-linejoin="round"/>
<polygon points="206.6,224.8 219.4,226.2 224.3,223.0 211.6,221.6" fill="#DDA600" stroke="#9e7700" stroke-width="0.5" stroke-linejoin="round"/>
<polygon points="207.3,250.7 206.6,224.8 219.4,226.2 219.9,252.2" fill="#FFC000" stroke="#9e7700" stroke-width="0.5" stroke-linejoin="round"/>
<polygon points="250.4,255.8 250.0,230.5 254.7,227.2 255.1,252.3" fill="#BF9000" stroke="#9e7700" stroke-width="0.5" stroke-linejoin="round"/>
<polygon points="237.1,229.0 250.0,230.5 254.7,227.2 241.9,225.8" fill="#DDA600" stroke="#9e7700" stroke-width="0.5" stroke-linejoin="round"/>
<polygon points="237.6,254.2 237.1,229.0 250.0,230.5 250.4,255.8" fill="#FFC000" stroke="#9e7700" stroke-width="0.5" stroke-linejoin="round"/>
<polygon points="281.4,259.4 281.2,232.5 285.7,229.2 285.9,255.9" fill="#BF9000" stroke="#9e7700" stroke-width="0.5" stroke-linejoin="round"/>
<polygon points="268.0,231.1 281.2,232.5 285.7,229.2 272.6,227.7" fill="#DDA600" stroke="#9e7700" stroke-width="0.5" stroke-linejoin="round"/>
<polygon points="268.4,257.9 268.0,231.1 281.2,232.5 281.4,259.4" fill="#FFC000" stroke="#9e7700" stroke-width="0.5" stroke-linejoin="round"/>
<polygon points="313.0,263.1 312.9,235.7 317.2,232.3 317.2,259.5" fill="#BF9000" stroke="#9e7700" stroke-width="0.5" stroke-linejoin="round"/>
<polygon points="299.5,234.2 312.9,235.7 317.2,232.3 303.9,230.8" fill="#DDA600" stroke="#9e7700" stroke-width="0.5" stroke-linejoin="round"/>
<polygon points="299.7,261.6 299.5,234.2 312.9,235.7 313.0,263.1" fill="#FFC000" stroke="#9e7700" stroke-width="0.5" stroke-linejoin="round"/>
<polygon points="345.0,266.9 345.1,240.3 349.2,236.9 349.1,263.3" fill="#BF9000" stroke="#9e7700" stroke-width="0.5" stroke-linejoin="round"/>
<polygon points="331.5,238.8 345.1,240.3 349.2,236.9 335.7,235.4" fill="#DDA600" stroke="#9e7700" stroke-width="0.5" stroke-linejoin="round"/>
<polygon points="331.5,265.3 331.5,238.8 345.1,240.3 345.0,266.9" fill="#FFC000" stroke="#9e7700" stroke-width="0.5" stroke-linejoin="round"/>
<polygon points="377.7,270.8 377.9,244.1 381.7,240.6 381.4,267.0" fill="#BF9000" stroke="#9e7700" stroke-width="0.5" stroke-linejoin="round"/>
<polygon points="364.1,242.6 377.9,244.1 381.7,240.6 368.0,239.1" fill="#DDA600" stroke="#9e7700" stroke-width="0.5" stroke-linejoin="round"/>
<polygon points="363.9,269.1 364.1,242.6 377.9,244.1 377.7,270.8" fill="#FFC000" stroke="#9e7700" stroke-width="0.5" stroke-linejoin="round"/>
<polygon points="410.9,274.7 411.3,247.7 414.9,244.1 414.4,270.9" fill="#BF9000" stroke="#9e7700" stroke-width="0.5" stroke-linejoin="round"/>
<polygon points="397.2,246.1 411.3,247.7 414.9,244.1 400.9,242.5" fill="#DDA600" stroke="#9e7700" stroke-width="0.5" stroke-linejoin="round"/>
<polygon points="396.9,273.0 397.2,246.1 411.3,247.7 410.9,274.7" fill="#FFC000" stroke="#9e7700" stroke-width="0.5" stroke-linejoin="round"/>
<polygon points="444.6,278.7 445.3,252.7 448.5,249.1 447.9,274.8" fill="#BF9000" stroke="#9e7700" stroke-width="0.5" stroke-linejoin="round"/>
<polygon points="430.9,251.1 445.3,252.7 448.5,249.1 434.3,247.5" fill="#DDA600" stroke="#9e7700" stroke-width="0.5" stroke-linejoin="round"/>
<polygon points="430.4,277.0 430.9,251.1 445.3,252.7 444.6,278.7" fill="#FFC000" stroke="#9e7700" stroke-width="0.5" stroke-linejoin="round"/>
<polygon points="479.0,282.7 479.9,253.4 482.9,249.7 482.0,278.8" fill="#BF9000" stroke="#9e7700" stroke-width="0.5" stroke-linejoin="round"/>
<polygon points="465.3,251.8 479.9,253.4 482.9,249.7 468.5,248.1" fill="#DDA600" stroke="#9e7700" stroke-width="0.5" stroke-linejoin="round"/>
<polygon points="464.5,281.0 465.3,251.8 479.9,253.4 479.0,282.7" fill="#FFC000" stroke="#9e7700" stroke-width="0.5" stroke-linejoin="round"/>
<polygon points="514.0,286.8 515.1,259.0 517.8,255.2 516.7,282.8" fill="#BF9000" stroke="#9e7700" stroke-width="0.5" stroke-linejoin="round"/>
<polygon points="500.2,257.3 515.1,259.0 517.8,255.2 503.1,253.6" fill="#DDA600" stroke="#9e7700" stroke-width="0.5" stroke-linejoin="round"/>
<polygon points="499.2,285.1 500.2,257.3 515.1,259.0 514.0,286.8" fill="#FFC000" stroke="#9e7700" stroke-width="0.5" stroke-linejoin="round"/>
<polygon points="549.6,291.0 550.9,263.1 553.3,259.3 552.1,287.0" fill="#BF9000" stroke="#9e7700" stroke-width="0.5" stroke-linejoin="round"/>
<polygon points="535.8,261.5 550.9,263.1 553.3,259.3 538.3,257.6" fill="#DDA600" stroke="#9e7700" stroke-width="0.5" stroke-linejoin="round"/>
<polygon points="534.6,289.3 535.8,261.5 550.9,263.1 549.6,291.0" fill="#FFC000" stroke="#9e7700" stroke-width="0.5" stroke-linejoin="round"/>
<polygon points="585.9,295.3 587.4,267.4 589.5,263.5 588.0,291.2" fill="#BF9000" stroke="#9e7700" stroke-width="0.5" stroke-linejoin="round"/>
<polygon points="572.0,265.7 587.4,267.4 589.5,263.5 574.2,261.8" fill="#DDA600" stroke="#9e7700" stroke-width="0.5" stroke-linejoin="round"/>
<polygon points="570.6,293.5 572.0,265.7 587.4,267.4 585.9,295.3" fill="#FFC000" stroke="#9e7700" stroke-width="0.5" stroke-linejoin="round"/>
<polygon points="115.3,251.3 114.1,223.8 119.9,220.6 121.0,247.9" fill="#7F7F7F" stroke="#6b6b6b" stroke-width="0.5" stroke-linejoin="round"/>
<polygon points="101.8,222.4 114.1,223.8 119.9,220.6 107.6,219.2" fill="#929292" stroke="#6b6b6b" stroke-width="0.5" stroke-linejoin="round"/>
<polygon points="103.1,249.8 101.8,222.4 114.1,223.8 115.3,251.3" fill="#ADADAD" stroke="#6b6b6b" stroke-width="0.5" stroke-linejoin="round"/>
<polygon points="144.9,254.9 143.9,228.4 149.5,225.2 150.4,251.4" fill="#7F7F7F" stroke="#6b6b6b" stroke-width="0.5" stroke-linejoin="round"/>
<polygon points="131.4,227.0 143.9,228.4 149.5,225.2 137.0,223.8" fill="#929292" stroke="#6b6b6b" stroke-width="0.5" stroke-linejoin="round"/>
<polygon points="132.4,253.4 131.4,227.0 143.9,228.4 144.9,254.9" fill="#ADADAD" stroke="#6b6b6b" stroke-width="0.5" stroke-linejoin="round"/>
<polygon points="175.0,258.6 174.2,233.1 179.5,229.8 180.3,255.0" fill="#7F7F7F" stroke="#6b6b6b" stroke-width="0.5" stroke-linejoin="round"/>
<polygon points="161.4,231.7 174.2,233.1 179.5,229.8 166.9,228.3" fill="#929292" stroke="#6b6b6b" stroke-width="0.5" stroke-linejoin="round"/>
<polygon points="162.3,257.0 161.4,231.7 174.2,233.1 175.0,258.6" fill="#ADADAD" stroke="#6b6b6b" stroke-width="0.5" stroke-linejoin="round"/>
<polygon points="205.6,262.3 204.9,235.4 210.0,232.0 210.7,258.7" fill="#7F7F7F" stroke="#6b6b6b" stroke-width="0.5" stroke-linejoin="round"/>
<polygon points="191.9,233.9 204.9,235.4 210.0,232.0 197.1,230.5" fill="#929292" stroke="#6b6b6b" stroke-width="0.5" stroke-linejoin="round"/>
<polygon points="192.6,260.7 191.9,233.9 204.9,235.4 205.6,262.3" fill="#ADADAD" stroke="#6b6b6b" stroke-width="0.5" stroke-linejoin="round"/>
<polygon points="236.7,266.0 236.2,240.2 241.1,236.7 241.5,262.4" fill="#7F7F7F" stroke="#6b6b6b" stroke-width="0.5" stroke-linejoin="round"/>
<polygon points="223.0,238.7 236.2,240.2 241.1,236.7 228.0,235.3" fill="#929292" stroke="#6b6b6b" stroke-width="0.5" stroke-linejoin="round"/>
<polygon points="223.5,264.4 223.0,238.7 236.2,240.2 236.7,266.0" fill="#ADADAD" stroke="#6b6b6b" stroke-width="0.5" stroke-linejoin="round"/>
<polygon points="268.3,269.9 267.9,241.3 272.6,237.8 273.0,266.1" fill="#7F7F7F" stroke="#6b6b6b" stroke-width="0.5" stroke-linejoin="round"/>
<polygon points="254.5,239.7 267.9,241.3 272.6,237.8 259.3,236.3" fill="#929292" stroke="#6b6b6b" stroke-width="0.5" stroke-linejoin="round"/>
<polygon points="254.9,268.2 254.5,239.7 267.9,241.3 268.3,269.9" fill="#ADADAD" stroke="#6b6b6b" stroke-width="0.5" stroke-linejoin="round"/>
<polygon points="300.5,273.8 300.3,245.7 304.8,242.1 304.9,270.0" fill="#7F7F7F" stroke="#6b6b6b" stroke-width="0.5" stroke-linejoin="round"/>
<polygon points="286.6,244.1 300.3,245.7 304.8,242.1 291.2,240.6" fill="#929292" stroke="#6b6b6b" stroke-width="0.5" stroke-linejoin="round"/>
<polygon points="286.9,272.1 286.6,244.1 300.3,245.7 300.5,273.8" fill="#ADADAD" stroke="#6b6b6b" stroke-width="0.5" stroke-linejoin="round"/>
<polygon points="333.2,277.7 333.2,250.5 337.5,246.9 337.4,273.9" fill="#7F7F7F" stroke="#6b6b6b" stroke-width="0.5" stroke-linejoin="round"/>
<polygon points="319.3,248.9 333.2,250.5 337.5,246.9 323.7,245.3" fill="#929292" stroke="#6b6b6b" stroke-width="0.5" stroke-linejoin="round"/>
<polygon points="319.4,276.0 319.3,248.9 333.2,250.5 333.2,277.7" fill="#ADADAD" stroke="#6b6b6b" stroke-width="0.5" stroke-linejoin="round"/>
<polygon points="366.5,281.8 366.8,254.5 370.7,250.8 370.5,277.8" fill="#7F7F7F" stroke="#6b6b6b" stroke-width="0.5" stroke-linejoin="round"/>
<polygon points="352.6,252.9 366.8,254.5 370.7,250.8 356.7,249.3" fill="#929292" stroke="#6b6b6b" stroke-width="0.5" stroke-linejoin="round"/>
<polygon points="352.5,280.1 352.6,252.9 366.8,254.5 366.5,281.8" fill="#ADADAD" stroke="#6b6b6b" stroke-width="0.5" stroke-linejoin="round"/>
<polygon points="400.5,285.9 400.9,257.7 404.6,253.9 404.2,281.9" fill="#7F7F7F" stroke="#6b6b6b" stroke-width="0.5" stroke-linejoin="round"/>
<polygon points="386.5,256.0 400.9,257.7 404.6,253.9 390.3,252.3" fill="#929292" stroke="#6b6b6b" stroke-width="0.5" stroke-linejoin="round"/>
<polygon points="386.1,284.1 386.5,256.0 400.9,257.7 400.5,285.9" fill="#ADADAD" stroke="#6b6b6b" stroke-width="0.5" stroke-linejoin="round"/>
<polygon points="435.0,290.0 435.6,262.9 439.0,259.1 438.4,286.0" fill="#7F7F7F" stroke="#6b6b6b" stroke-width="0.5" stroke-linejoin="round"/>
<polygon points="420.9,261.3 435.6,262.9 439.0,259.1 424.5,257.5" fill="#929292" stroke="#6b6b6b" stroke-width="0.5" stroke-linejoin="round"/>
<polygon points="420.4,288.3 420.9,261.3 435.6,262.9 435.0,290.0" fill="#ADADAD" stroke="#6b6b6b" stroke-width="0.5" stroke-linejoin="round"/>
<polygon points="470.1,294.3 471.0,264.9 474.2,261.0 473.3,290.2" fill="#7F7F7F" stroke="#6b6b6b" stroke-width="0.5" stroke-linejoin="round"/>
<polygon points="456.1,263.2 471.0,264.9 474.2,261.0 459.3,259.3" fill="#929292" stroke="#6b6b6b" stroke-width="0.5" stroke-linejoin="round"/>
<polygon points="455.3,292.5 456.1,263.2 471.0,264.9 470.1,294.3" fill="#ADADAD" stroke="#6b6b6b" stroke-width="0.5" stroke-linejoin="round"/>
<polygon points="505.9,298.6 507.0,270.7 509.8,266.7 508.8,294.4" fill="#7F7F7F" stroke="#6b6b6b" stroke-width="0.5" stroke-linejoin="round"/>
<polygon points="491.7,269.0 507.0,270.7 509.8,266.7 494.7,265.0" fill="#929292" stroke="#6b6b6b" stroke-width="0.5" stroke-linejoin="round"/>
<polygon points="490.8,296.8 491.7,269.0 507.0,270.7 505.9,298.6" fill="#ADADAD" stroke="#6b6b6b" stroke-width="0.5" stroke-linejoin="round"/>
<polygon points="542.4,303.1 543.7,273.9 546.2,269.9 545.0,298.8" fill="#7F7F7F" stroke="#6b6b6b" stroke-width="0.5" stroke-linejoin="round"/>
<polygon points="528.2,272.2 543.7,273.9 546.2,269.9 530.9,268.1" fill="#929292" stroke="#6b6b6b" stroke-width="0.5" stroke-linejoin="round"/>
<polygon points="527.0,301.2 528.2,272.2 543.7,273.9 542.4,303.1" fill="#ADADAD" stroke="#6b6b6b" stroke-width="0.5" stroke-linejoin="round"/>
<polygon points="579.5,307.6 581.0,278.8 583.3,274.6 581.8,303.2" fill="#7F7F7F" stroke="#6b6b6b" stroke-width="0.5" stroke-linejoin="round"/>
<polygon points="565.2,277.0 581.0,278.8 583.3,274.6 567.6,272.9" fill="#929292" stroke="#6b6b6b" stroke-width="0.5" stroke-linejoin="round"/>
<polygon points="563.8,305.7 565.2,277.0 581.0,278.8 579.5,307.6" fill="#ADADAD" stroke="#6b6b6b" stroke-width="0.5" stroke-linejoin="round"/>
<polygon points="98.5,261.4 97.3,235.1 103.3,231.7 104.5,257.8" fill="#B85D20" stroke="#924d1e" stroke-width="0.5" stroke-linejoin="round"/>
<polygon points="84.7,233.6 97.3,235.1 103.3,231.7 90.8,230.2" fill="#D06C28" stroke="#924d1e" stroke-width="0.5" stroke-linejoin="round"/>
<polygon points="86.0,259.8 84.7,233.6 97.3,235.1 98.5,261.4" fill="#ED7D31" stroke="#924d1e" stroke-width="0.5" stroke-linejoin="round"/>
<polygon points="128.6,265.1 127.6,239.2 133.4,235.7 134.4,261.5" fill="#B85D20" stroke="#924d1e" stroke-width="0.5" stroke-linejoin="round"/>
<polygon points="114.8,237.7 127.6,239.2 133.4,235.7 120.7,234.2" fill="#D06C28" stroke="#924d1e" stroke-width="0.5" stroke-linejoin="round"/>
<polygon points="115.9,263.5 114.8,237.7 127.6,239.2 128.6,265.1" fill="#ED7D31" stroke="#924d1e" stroke-width="0.5" stroke-linejoin="round"/>
<polygon points="159.3,268.9 158.5,244.6 164.1,241.1 164.9,265.3" fill="#B85D20" stroke="#924d1e" stroke-width="0.5" stroke-linejoin="round"/>
<polygon points="145.5,243.1 158.5,244.6 164.1,241.1 151.2,239.6" fill="#D06C28" stroke="#924d1e" stroke-width="0.5" stroke-linejoin="round"/>
<polygon points="146.4,267.3 145.5,243.1 158.5,244.6 159.3,268.9" fill="#ED7D31" stroke="#924d1e" stroke-width="0.5" stroke-linejoin="round"/>
<polygon points="190.5,272.8 189.8,247.7 195.2,244.2 195.8,269.1" fill="#B85D20" stroke="#924d1e" stroke-width="0.5" stroke-linejoin="round"/>
<polygon points="176.5,246.2 189.8,247.7 195.2,244.2 182.0,242.6" fill="#D06C28" stroke="#924d1e" stroke-width="0.5" stroke-linejoin="round"/>
<polygon points="177.3,271.2 176.5,246.2 189.8,247.7 190.5,272.8" fill="#ED7D31" stroke="#924d1e" stroke-width="0.5" stroke-linejoin="round"/>
<polygon points="222.2,276.8 221.6,250.7 226.8,247.1 227.3,273.0" fill="#B85D20" stroke="#924d1e" stroke-width="0.5" stroke-linejoin="round"/>
<polygon points="208.2,249.2 221.6,250.7 226.8,247.1 213.4,245.6" fill="#D06C28" stroke="#924d1e" stroke-width="0.5" stroke-linejoin="round"/>
<polygon points="208.8,275.1 208.2,249.2 221.6,250.7 222.2,276.8" fill="#ED7D31" stroke="#924d1e" stroke-width="0.5" stroke-linejoin="round"/>
<polygon points="254.5,280.8 254.0,251.8 259.0,248.1 259.4,276.9" fill="#B85D20" stroke="#924d1e" stroke-width="0.5" stroke-linejoin="round"/>
<polygon points="240.3,250.2 254.0,251.8 259.0,248.1 245.4,246.5" fill="#D06C28" stroke="#924d1e" stroke-width="0.5" stroke-linejoin="round"/>
<polygon points="240.9,279.1 240.3,250.2 254.0,251.8 254.5,280.8" fill="#ED7D31" stroke="#924d1e" stroke-width="0.5" stroke-linejoin="round"/>
<polygon points="287.3,284.9 287.1,255.4 291.8,251.7 292.0,280.9" fill="#B85D20" stroke="#924d1e" stroke-width="0.5" stroke-linejoin="round"/>
<polygon points="273.1,253.8 287.1,255.4 291.8,251.7 277.9,250.1" fill="#D06C28" stroke="#924d1e" stroke-width="0.5" stroke-linejoin="round"/>
<polygon points="273.5,283.2 273.1,253.8 287.1,255.4 287.3,284.9" fill="#ED7D31" stroke="#924d1e" stroke-width="0.5" stroke-linejoin="round"/>
<polygon points="320.8,289.1 320.7,261.4 325.2,257.6 325.2,285.0" fill="#B85D20" stroke="#924d1e" stroke-width="0.5" stroke-linejoin="round"/>
<polygon points="306.5,259.8 320.7,261.4 325.2,257.6 311.1,256.0" fill="#D06C28" stroke="#924d1e" stroke-width="0.5" stroke-linejoin="round"/>
<polygon points="306.7,287.3 306.5,259.8 320.7,261.4 320.8,289.1" fill="#ED7D31" stroke="#924d1e" stroke-width="0.5" stroke-linejoin="round"/>
<polygon points="354.8,293.3 355.0,265.5 359.2,261.6 359.0,289.2" fill="#B85D20" stroke="#924d1e" stroke-width="0.5" stroke-linejoin="round"/>
<polygon points="340.5,263.8 355.0,265.5 359.2,261.6 344.8,259.9" fill="#D06C28" stroke="#924d1e" stroke-width="0.5" stroke-linejoin="round"/>
<polygon points="340.5,291.5 340.5,263.8 355.0,265.5 354.8,293.3" fill="#ED7D31" stroke="#924d1e" stroke-width="0.5" stroke-linejoin="round"/>
<polygon points="389.5,297.6 389.9,270.5 393.8,266.5 393.4,293.4" fill="#B85D20" stroke="#924d1e" stroke-width="0.5" stroke-linejoin="round"/>
<polygon points="375.1,268.8 389.9,270.5 393.8,266.5 379.2,264.8" fill="#D06C28" stroke="#924d1e" stroke-width="0.5" stroke-linejoin="round"/>
<polygon points="374.9,295.8 375.1,268.8 389.9,270.5 389.5,297.6" fill="#ED7D31" stroke="#924d1e" stroke-width="0.5" stroke-linejoin="round"/>
<polygon points="424.8,302.0 425.4,273.7 429.0,269.7 428.4,297.8" fill="#B85D20" stroke="#924d1e" stroke-width="0.5" stroke-linejoin="round"/>
<polygon points="410.4,271.9 425.4,273.7 429.0,269.7 414.1,267.9" fill="#D06C28" stroke="#924d1e" stroke-width="0.5" stroke-linejoin="round"/>
<polygon points="409.9,300.2 410.4,271.9 425.4,273.7 424.8,302.0" fill="#ED7D31" stroke="#924d1e" stroke-width="0.5" stroke-linejoin="round"/>
<polygon points="460.8,306.5 461.6,276.0 465.0,271.9 464.1,302.2" fill="#B85D20" stroke="#924d1e" stroke-width="0.5" stroke-linejoin="round"/>
<polygon points="446.3,274.2 461.6,276.0 465.0,271.9 449.8,270.2" fill="#D06C28" stroke="#924d1e" stroke-width="0.5" stroke-linejoin="round"/>
<polygon points="445.6,304.6 446.3,274.2 461.6,276.0 460.8,306.5" fill="#ED7D31" stroke="#924d1e" stroke-width="0.5" stroke-linejoin="round"/>
<polygon points="497.4,311.1 498.5,281.9 501.5,277.7 500.5,306.6" fill="#B85D20" stroke="#924d1e" stroke-width="0.5" stroke-linejoin="round"/>
<polygon points="482.9,280.1 498.5,281.9 501.5,277.7 486.0,275.9" fill="#D06C28" stroke="#924d1e" stroke-width="0.5" stroke-linejoin="round"/>
<polygon points="482.0,309.1 482.9,280.1 498.5,281.9 497.4,311.1" fill="#ED7D31" stroke="#924d1e" stroke-width="0.5" stroke-linejoin="round"/>
<polygon points="534.8,315.7 536.0,287.3 538.7,283.0 537.5,311.2" fill="#B85D20" stroke="#924d1e" stroke-width="0.5" stroke-linejoin="round"/>
<polygon points="520.1,285.4 536.0,287.3 538.7,283.0 523.0,281.2" fill="#D06C28" stroke="#924d1e" stroke-width="0.5" stroke-linejoin="round"/>
<polygon points="519.0,313.8 520.1,285.4 536.0,287.3 534.8,315.7" fill="#ED7D31" stroke="#924d1e" stroke-width="0.5" stroke-linejoin="round"/>
<polygon points="572.8,320.5 574.2,293.4 576.6,289.0 575.2,315.9" fill="#B85D20" stroke="#924d1e" stroke-width="0.5" stroke-linejoin="round"/>
<polygon points="558.0,291.5 574.2,293.4 576.6,289.0 560.6,287.1" fill="#D06C28" stroke="#924d1e" stroke-width="0.5" stroke-linejoin="round"/>
<polygon points="556.8,318.5 558.0,291.5 574.2,293.4 572.8,320.5" fill="#ED7D31" stroke="#924d1e" stroke-width="0.5" stroke-linejoin="round"/>
<polygon points="80.9,271.9 79.6,245.8 85.9,242.2 87.2,268.2" fill="#3F78B0" stroke="#386084" stroke-width="0.5" stroke-linejoin="round"/>
<polygon points="66.8,244.2 79.6,245.8 85.9,242.2 73.2,240.7" fill="#4A86C2" stroke="#386084" stroke-width="0.5" stroke-linejoin="round"/>
<polygon points="68.1,270.3 66.8,244.2 79.6,245.8 80.9,271.9" fill="#5B9BD5" stroke="#386084" stroke-width="0.5" stroke-linejoin="round"/>
<polygon points="111.6,275.8 110.4,249.8 116.5,246.2 117.7,272.0" fill="#3F78B0" stroke="#386084" stroke-width="0.5" stroke-linejoin="round"/>
<polygon points="97.4,248.3 110.4,249.8 116.5,246.2 103.6,244.7" fill="#4A86C2" stroke="#386084" stroke-width="0.5" stroke-linejoin="round"/>
<polygon points="98.6,274.2 97.4,248.3 110.4,249.8 111.6,275.8" fill="#5B9BD5" stroke="#386084" stroke-width="0.5" stroke-linejoin="round"/>
<polygon points="142.8,279.9 141.9,254.4 147.8,250.7 148.7,276.0" fill="#3F78B0" stroke="#386084" stroke-width="0.5" stroke-linejoin="round"/>
<polygon points="128.6,252.8 141.9,254.4 147.8,250.7 134.6,249.1" fill="#4A86C2" stroke="#386084" stroke-width="0.5" stroke-linejoin="round"/>
<polygon points="129.7,278.2 128.6,252.8 141.9,254.4 142.8,279.9" fill="#5B9BD5" stroke="#386084" stroke-width="0.5" stroke-linejoin="round"/>
<polygon points="174.7,283.9 173.8,257.9 179.5,254.1 180.3,280.0" fill="#3F78B0" stroke="#386084" stroke-width="0.5" stroke-linejoin="round"/>
<polygon points="160.3,256.3 173.8,257.9 179.5,254.1 166.1,252.5" fill="#4A86C2" stroke="#386084" stroke-width="0.5" stroke-linejoin="round"/>
<polygon points="161.2,282.2 160.3,256.3 173.8,257.9 174.7,283.9" fill="#5B9BD5" stroke="#386084" stroke-width="0.5" stroke-linejoin="round"/>
<polygon points="207.0,288.1 206.3,260.7 211.8,256.9 212.4,284.1" fill="#3F78B0" stroke="#386084" stroke-width="0.5" stroke-linejoin="round"/>
<polygon points="192.6,259.0 206.3,260.7 211.8,256.9 198.1,255.3" fill="#4A86C2" stroke="#386084" stroke-width="0.5" stroke-linejoin="round"/>
<polygon points="193.4,286.3 192.6,259.0 206.3,260.7 207.0,288.1" fill="#5B9BD5" stroke="#386084" stroke-width="0.5" stroke-linejoin="round"/>
<polygon points="240.0,292.3 239.5,265.1 244.7,261.2 245.1,288.2" fill="#3F78B0" stroke="#386084" stroke-width="0.5" stroke-linejoin="round"/>
<polygon points="225.5,263.4 239.5,265.1 244.7,261.2 230.8,259.5" fill="#4A86C2" stroke="#386084" stroke-width="0.5" stroke-linejoin="round"/>
<polygon points="226.1,290.5 225.5,263.4 239.5,265.1 240.0,292.3" fill="#5B9BD5" stroke="#386084" stroke-width="0.5" stroke-linejoin="round"/>
<polygon points="273.5,296.6 273.2,269.0 278.2,265.0 278.5,292.4" fill="#3F78B0" stroke="#386084" stroke-width="0.5" stroke-linejoin="round"/>
<polygon points="259.0,267.2 273.2,269.0 278.2,265.0 264.0,263.3" fill="#4A86C2" stroke="#386084" stroke-width="0.5" stroke-linejoin="round"/>
<polygon points="259.4,294.8 259.0,267.2 273.2,269.0 273.5,296.6" fill="#5B9BD5" stroke="#386084" stroke-width="0.5" stroke-linejoin="round"/>
<polygon points="307.7,301.0 307.6,273.3 312.3,269.3 312.4,296.7" fill="#3F78B0" stroke="#386084" stroke-width="0.5" stroke-linejoin="round"/>
<polygon points="293.1,271.5 307.6,273.3 312.3,269.3 297.9,267.6" fill="#4A86C2" stroke="#386084" stroke-width="0.5" stroke-linejoin="round"/>
<polygon points="293.3,299.1 293.1,271.5 307.6,273.3 307.7,301.0" fill="#5B9BD5" stroke="#386084" stroke-width="0.5" stroke-linejoin="round"/>
<polygon points="342.5,305.4 342.6,277.7 347.0,273.6 346.9,301.1" fill="#3F78B0" stroke="#386084" stroke-width="0.5" stroke-linejoin="round"/>
<polygon points="327.8,275.9 342.6,277.7 347.0,273.6 332.3,271.9" fill="#4A86C2" stroke="#386084" stroke-width="0.5" stroke-linejoin="round"/>
<polygon points="327.8,303.6 327.8,275.9 342.6,277.7 342.5,305.4" fill="#5B9BD5" stroke="#386084" stroke-width="0.5" stroke-linejoin="round"/>
<polygon points="378.0,310.0 378.3,281.6 382.4,277.5 382.1,305.6" fill="#3F78B0" stroke="#386084" stroke-width="0.5" stroke-linejoin="round"/>
<polygon points="363.2,279.8 378.3,281.6 382.4,277.5 367.5,275.7" fill="#4A86C2" stroke="#386084" stroke-width="0.5" stroke-linejoin="round"/>
<polygon points="363.0,308.1 363.2,279.8 378.3,281.6 378.0,310.0" fill="#5B9BD5" stroke="#386084" stroke-width="0.5" stroke-linejoin="round"/>
<polygon points="414.1,314.6 414.7,283.8 418.5,279.6 417.9,310.1" fill="#3F78B0" stroke="#386084" stroke-width="0.5" stroke-linejoin="round"/>
<polygon points="399.3,282.0 414.7,283.8 418.5,279.6 403.3,277.8" fill="#4A86C2" stroke="#386084" stroke-width="0.5" stroke-linejoin="round"/>
<polygon points="398.9,312.7 399.3,282.0 414.7,283.8 414.1,314.6" fill="#5B9BD5" stroke="#386084" stroke-width="0.5" stroke-linejoin="round"/>
<polygon points="451.0,319.3 451.8,286.7 455.3,282.4 454.5,314.8" fill="#3F78B0" stroke="#386084" stroke-width="0.5" stroke-linejoin="round"/>
<polygon points="436.1,284.8 451.8,286.7 455.3,282.4 439.8,280.6" fill="#4A86C2" stroke="#386084" stroke-width="0.5" stroke-linejoin="round"/>
<polygon points="435.4,317.3 436.1,284.8 451.8,286.7 451.0,319.3" fill="#5B9BD5" stroke="#386084" stroke-width="0.5" stroke-linejoin="round"/>
<polygon points="488.5,324.2 489.5,293.9 492.7,289.4 491.7,319.5" fill="#3F78B0" stroke="#386084" stroke-width="0.5" stroke-linejoin="round"/>
<polygon points="473.5,291.9 489.5,293.9 492.7,289.4 476.9,287.6" fill="#4A86C2" stroke="#386084" stroke-width="0.5" stroke-linejoin="round"/>
<polygon points="472.6,322.1 473.5,291.9 489.5,293.9 488.5,324.2" fill="#5B9BD5" stroke="#386084" stroke-width="0.5" stroke-linejoin="round"/>
<polygon points="526.8,329.1 528.0,299.1 530.8,294.6 529.6,324.3" fill="#3F78B0" stroke="#386084" stroke-width="0.5" stroke-linejoin="round"/>
<polygon points="511.7,297.1 528.0,299.1 530.8,294.6 514.7,292.7" fill="#4A86C2" stroke="#386084" stroke-width="0.5" stroke-linejoin="round"/>
<polygon points="510.6,327.0 511.7,297.1 528.0,299.1 526.8,329.1" fill="#5B9BD5" stroke="#386084" stroke-width="0.5" stroke-linejoin="round"/>
<polygon points="565.8,334.1 567.2,305.5 569.7,300.9 568.3,329.2" fill="#3F78B0" stroke="#386084" stroke-width="0.5" stroke-linejoin="round"/>
<polygon points="550.6,303.5 567.2,305.5 569.7,300.9 553.3,298.9" fill="#4A86C2" stroke="#386084" stroke-width="0.5" stroke-linejoin="round"/>
<polygon points="549.3,331.9 550.6,303.5 567.2,305.5 565.8,334.1" fill="#5B9BD5" stroke="#386084" stroke-width="0.5" stroke-linejoin="round"/>
<text x="37.4" y="278.4" font-size="14.1" text-anchor="end" font-family="Liberation Sans, sans-serif" fill="#1a1a1a" stroke="#1a1a1a" stroke-width="0.25">0</text>
<text x="35.3" y="242.0" font-size="14.1" text-anchor="end" font-family="Liberation Sans, sans-serif" fill="#1a1a1a" stroke="#1a1a1a" stroke-width="0.25">1</text>
<text x="33.2" y="205.0" font-size="14.1" text-anchor="end" font-family="Liberation Sans, sans-serif" fill="#1a1a1a" stroke="#1a1a1a" stroke-width="0.25">2</text>
<text x="31.1" y="167.4" font-size="14.1" text-anchor="end" font-family="Liberation Sans, sans-serif" fill="#1a1a1a" stroke="#1a1a1a" stroke-width="0.25">3</text>
<text x="29.0" y="129.3" font-size="14.1" text-anchor="end" font-family="Liberation Sans, sans-serif" fill="#1a1a1a" stroke="#1a1a1a" stroke-width="0.25">4</text>
<text x="26.8" y="90.5" font-size="14.1" text-anchor="end" font-family="Liberation Sans, sans-serif" fill="#1a1a1a" stroke="#1a1a1a" stroke-width="0.25">5</text>
<text x="24.6" y="51.2" font-size="14.1" text-anchor="end" font-family="Liberation Sans, sans-serif" fill="#1a1a1a" stroke="#1a1a1a" stroke-width="0.25">6</text>
<text transform="translate(16.7,154.8) rotate(-90)" font-size="14.3" textLength="25.2" lengthAdjust="spacingAndGlyphs" text-anchor="middle" font-family="Liberation Sans, sans-serif" fill="#1a1a1a" stroke="#1a1a1a" stroke-width="0.25">G/B</text>
<text transform="translate(74.4,286.1) rotate(-90)" font-size="14.3" text-anchor="end" textLength="19.8" lengthAdjust="spacingAndGlyphs" font-family="Liberation Sans, sans-serif" fill="#1a1a1a" stroke="#1a1a1a" stroke-width="0.25">S-e</text>
<text transform="translate(105.1,290.1) rotate(-90)" font-size="14.3" text-anchor="end" textLength="20.6" lengthAdjust="spacingAndGlyphs" font-family="Liberation Sans, sans-serif" fill="#1a1a1a" stroke="#1a1a1a" stroke-width="0.25">1-e</text>
<text transform="translate(136.5,294.1) rotate(-90)" font-size="14.3" text-anchor="end" textLength="28.5" lengthAdjust="spacingAndGlyphs" font-family="Liberation Sans, sans-serif" fill="#1a1a1a" stroke="#1a1a1a" stroke-width="0.25">10-e</text>
<text transform="translate(168.4,298.3) rotate(-90)" font-size="14.3" text-anchor="end" textLength="36.5" lengthAdjust="spacingAndGlyphs" font-family="Liberation Sans, sans-serif" fill="#1a1a1a" stroke="#1a1a1a" stroke-width="0.25">100-e</text>
<text transform="translate(200.8,302.5) rotate(-90)" font-size="14.3" text-anchor="end" textLength="44.5" lengthAdjust="spacingAndGlyphs" font-family="Liberation Sans, sans-serif" fill="#1a1a1a" stroke="#1a1a1a" stroke-width="0.25">1000-e</text>
<text transform="translate(233.9,306.8) rotate(-90)" font-size="14.3" text-anchor="end" textLength="19.2" lengthAdjust="spacingAndGlyphs" font-family="Liberation Sans, sans-serif" fill="#1a1a1a" stroke="#1a1a1a" stroke-width="0.25">S-k</text>
<text transform="translate(267.6,311.1) rotate(-90)" font-size="14.3" text-anchor="end" textLength="19.9" lengthAdjust="spacingAndGlyphs" font-family="Liberation Sans, sans-serif" fill="#1a1a1a" stroke="#1a1a1a" stroke-width="0.25">1-k</text>
<text transform="translate(301.8,315.5) rotate(-90)" font-size="14.3" text-anchor="end" textLength="27.9" lengthAdjust="spacingAndGlyphs" font-family="Liberation Sans, sans-serif" fill="#1a1a1a" stroke="#1a1a1a" stroke-width="0.25">10-k</text>
<text transform="translate(336.8,320.1) rotate(-90)" font-size="14.3" text-anchor="end" textLength="35.8" lengthAdjust="spacingAndGlyphs" font-family="Liberation Sans, sans-serif" fill="#1a1a1a" stroke="#1a1a1a" stroke-width="0.25">100-k</text>
<text transform="translate(372.4,324.7) rotate(-90)" font-size="14.3" text-anchor="end" textLength="43.8" lengthAdjust="spacingAndGlyphs" font-family="Liberation Sans, sans-serif" fill="#1a1a1a" stroke="#1a1a1a" stroke-width="0.25">1000-k</text>
<text transform="translate(408.6,329.4) rotate(-90)" font-size="14.3" text-anchor="end" textLength="20.3" lengthAdjust="spacingAndGlyphs" font-family="Liberation Sans, sans-serif" fill="#1a1a1a" stroke="#1a1a1a" stroke-width="0.25">S-p</text>
<text transform="translate(445.6,334.1) rotate(-90)" font-size="14.3" text-anchor="end" textLength="21.0" lengthAdjust="spacingAndGlyphs" font-family="Liberation Sans, sans-serif" fill="#1a1a1a" stroke="#1a1a1a" stroke-width="0.25">1-p</text>
<text transform="translate(483.3,339.0) rotate(-90)" font-size="14.3" text-anchor="end" textLength="29.0" lengthAdjust="spacingAndGlyphs" font-family="Liberation Sans, sans-serif" fill="#1a1a1a" stroke="#1a1a1a" stroke-width="0.25">10-p</text>
<text transform="translate(521.7,344.0) rotate(-90)" font-size="14.3" text-anchor="end" textLength="36.9" lengthAdjust="spacingAndGlyphs" font-family="Liberation Sans, sans-serif" fill="#1a1a1a" stroke="#1a1a1a" stroke-width="0.25">100-p</text>
<text transform="translate(560.9,349.1) rotate(-90)" font-size="14.3" text-anchor="end" textLength="44.9" lengthAdjust="spacingAndGlyphs" font-family="Liberation Sans, sans-serif" fill="#1a1a1a" stroke="#1a1a1a" stroke-width="0.25">1000-p</text>
<text x="591.1" y="338.1" font-size="13.1" font-family="Liberation Sans, sans-serif" fill="#1a1a1a" stroke="#1a1a1a" stroke-width="0.25">10 min</text>
<text x="604.2" y="311.7" font-size="13.1" font-family="Liberation Sans, sans-serif" fill="#1a1a1a" stroke="#1a1a1a" stroke-width="0.25">30 min</text>
<text x="616.0" y="287.9" font-size="13.1" font-family="Liberation Sans, sans-serif" fill="#1a1a1a" stroke="#1a1a1a" stroke-width="0.25">60 min</text>
<text x="626.7" y="266.3" font-size="13.1" font-family="Liberation Sans, sans-serif" fill="#1a1a1a" stroke="#1a1a1a" stroke-width="0.25">120 min</text>
<text x="636.4" y="246.7" font-size="13.1" font-family="Liberation Sans, sans-serif" fill="#1a1a1a" stroke="#1a1a1a" stroke-width="0.25">180 min</text>
<rect x="122.9" y="22.849999999999998" width="7.7" height="7.7" fill="#5B9BD5" stroke="#487caa" stroke-width="0.6"/>
<text x="135.0" y="31.0" font-size="13.4" font-family="Liberation Sans, sans-serif" fill="#1a1a1a" stroke="#1a1a1a" stroke-width="0.25">10 min</text>
<rect x="202.3" y="22.849999999999998" width="7.7" height="7.7" fill="#ED7D31" stroke="#bd6427" stroke-width="0.6"/>
<text x="214.4" y="31.0" font-size="13.4" font-family="Liberation Sans, sans-serif" fill="#1a1a1a" stroke="#1a1a1a" stroke-width="0.25">20 min</text>
<rect x="122.9" y="46.75" width="7.7" height="7.7" fill="#A5A5A5" stroke="#848484" stroke-width="0.6"/>
<text x="135.0" y="54.9" font-size="13.4" font-family="Liberation Sans, sans-serif" fill="#1a1a1a" stroke="#1a1a1a" stroke-width="0.25">30 min</text>
<rect x="202.3" y="46.75" width="7.7" height="7.7" fill="#FFC000" stroke="#cc9900" stroke-width="0.6"/>
<text x="214.4" y="54.9" font-size="13.4" font-family="Liberation Sans, sans-serif" fill="#1a1a1a" stroke="#1a1a1a" stroke-width="0.25">45 min</text>
<rect x="122.9" y="70.85000000000001" width="7.7" height="7.7" fill="#4472C4" stroke="#365b9c" stroke-width="0.6"/>
<text x="135.0" y="79.0" font-size="13.4" font-family="Liberation Sans, sans-serif" fill="#1a1a1a" stroke="#1a1a1a" stroke-width="0.25">60 min</text>
<rect x="202.3" y="70.85000000000001" width="7.7" height="7.7" fill="#70AD47" stroke="#598a38" stroke-width="0.6"/>
<text x="214.4" y="79.0" font-size="13.4" font-family="Liberation Sans, sans-serif" fill="#1a1a1a" stroke="#1a1a1a" stroke-width="0.25">90 min</text>
<rect x="122.9" y="94.75" width="7.7" height="7.7" fill="#255E91" stroke="#1d4b74" stroke-width="0.6"/>
<text x="135.0" y="102.9" font-size="13.4" font-family="Liberation Sans, sans-serif" fill="#1a1a1a" stroke="#1a1a1a" stroke-width="0.25">120 min</text>
<rect x="202.3" y="94.75" width="7.7" height="7.7" fill="#9E480E" stroke="#7e390b" stroke-width="0.6"/>
<text x="214.4" y="102.9" font-size="13.4" font-family="Liberation Sans, sans-serif" fill="#1a1a1a" stroke="#1a1a1a" stroke-width="0.25">150 min</text>
<rect x="122.9" y="118.25" width="7.7" height="7.7" fill="#636363" stroke="#4f4f4f" stroke-width="0.6"/>
<text x="135.0" y="126.4" font-size="13.4" font-family="Liberation Sans, sans-serif" fill="#1a1a1a" stroke="#1a1a1a" stroke-width="0.25">180 min</text>
</svg></body></html>
